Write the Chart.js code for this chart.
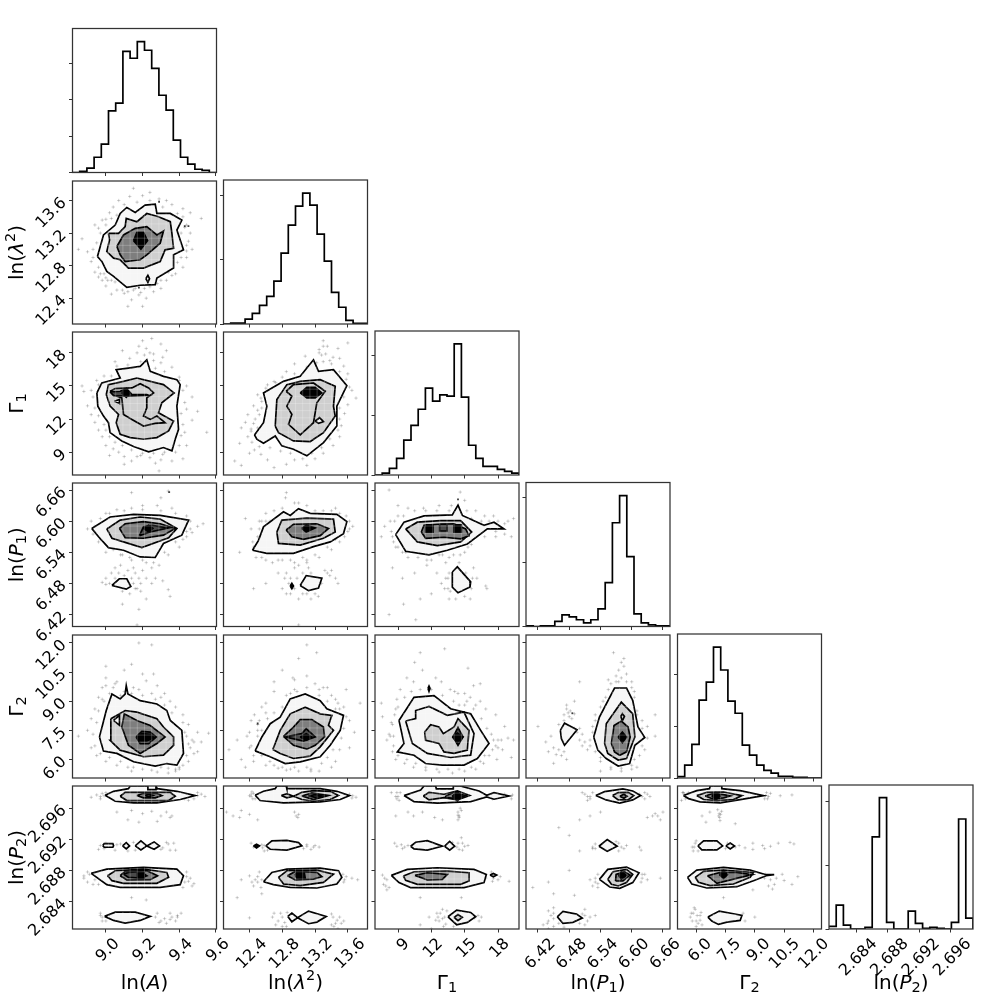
<!DOCTYPE html>
<html lang="en">
<head>
<meta charset="UTF-8">
<title>Corner plot</title>
<script src="https://cdn.jsdelivr.net/npm/chart.js"></script>
<style>
  html, body { margin: 0; padding: 0; background: #fff; width: 1000px; height: 1000px; overflow: hidden; }
  canvas { position: absolute; }
</style>
</head>
<body>
<script>
// parameter order: A = ln(A), L = ln(lambda^2), G = Gamma1, P = ln(P1), H = Gamma2, Q = ln(P2)
const axisMin = [8.818, 12.083, 6.93, 6.397, 5.045, 2.68047];
const axisMax = [9.603, 13.84, 19.89, 6.6735, 12.41, 2.69885];

const ticksA = [9.0, 9.2, 9.4, 9.6];
const ticksL = [12.4, 12.8, 13.2, 13.6];
const ticksG = [9, 12, 15, 18];
const ticksP = [6.42, 6.48, 6.54, 6.60, 6.66];
const ticksH = [6.0, 7.5, 9.0, 10.5, 12.0];
const ticksQ = [2.684, 2.688, 2.692, 2.696];
const labelsA = ['9.0', '9.2', '9.4', '9.6'];
const labelsL = ['12.4', '12.8', '13.2', '13.6'];
const labelsG = ['9', '12', '15', '18'];
const labelsP = ['6.42', '6.48', '6.54', '6.60', '6.66'];
const labelsH = ['6.0', '7.5', '9.0', '10.5', '12.0'];
const labelsQ = ['2.684', '2.688', '2.692', '2.696'];

// axis titles: [text, style] with style 0 upright, 1 italic, 2 subscript, 3 superscript
const titleA = [['ln(', 0], ['A', 1], [')', 0]];
const titleL = [['ln(', 0], ['λ', 1], ['2', 3], [')', 0]];
const titleG = [['Γ', 0], ['1', 2]];
const titleP = [['ln(', 0], ['P', 1], ['1', 2], [')', 0]];
const titleH = [['Γ', 0], ['2', 2]];
const titleQ = [['ln(', 0], ['P', 1], ['2', 2], [')', 0]];

// histogram counts, 20 bins each
const histA = [0, 3, 12, 42, 78, 170, 191, 334, 315, 361, 337, 287, 213, 172, 89, 42, 23, 9, 6, 0];
const histL = [0, 3, 3, 15, 33, 58, 86, 133, 220, 307, 366, 406, 369, 279, 195, 98, 52, 11, 2, 2];
const histG = [0, 6, 22, 56, 117, 167, 221, 292, 248, 269, 265, 441, 262, 100, 56, 29, 29, 19, 12, 6];
const histP = [2, 0, 2, 2, 16, 36, 30, 21, 11, 21, 55, 136, 322, 406, 217, 39, 11, 5, 2, 2];
const histH = [4, 37, 97, 225, 277, 378, 312, 222, 187, 95, 66, 37, 22, 14, 5, 5, 2, 2, 0, 0];
const histQ = [8, 75, 12, 0, 0, 5, 290, 413, 21, 0, 0, 56, 18, 2, 5, 2, 0, 21, 346, 34];
const histMax = [397, 447, 484, 447, 416, 453];
const histTicks = [[0, 100, 200, 300], [0, 200, 400], [0, 200, 400], [0, 200, 400], [0, 150, 300], [0, 200, 400]];

// contours, flat x,y lists, outer level first; ..p and ..q lists are the scatter samples
const AL1 = [8.954,12.912, 8.987,13.177, 9.051,13.299, 9.078,13.441, 9.114,13.515, 9.160,13.454, 9.214,13.543, 9.269,13.555, 9.278,13.441, 9.351,13.441, 9.414,13.360, 9.387,13.238, 9.423,12.994, 9.369,12.933, 9.369,12.770, 9.278,12.648, 9.269,12.567, 9.187,12.559, 9.114,12.534, 9.042,12.668, 9.005,12.729, 8.978,12.851];
const AL2 = [9.014,13.197, 9.069,13.197, 9.105,13.279, 9.111,13.380, 9.169,13.340, 9.223,13.441, 9.287,13.401, 9.351,13.340, 9.360,13.197, 9.369,13.014, 9.323,12.994, 9.296,12.851, 9.205,12.770, 9.123,12.770, 9.078,12.872, 9.042,12.892, 9.005,12.973, 9.020,13.116];
const AL3 = [9.060,13.035, 9.096,13.177, 9.160,13.258, 9.223,13.279, 9.278,13.177, 9.314,13.226, 9.296,13.075, 9.223,12.933, 9.187,12.872, 9.105,12.851, 9.078,12.933];
const AL4 = [9.151,13.108, 9.169,13.209, 9.205,13.209, 9.227,13.108, 9.191,13.002];
const ALs = [9.218,12.640, 9.229,12.681, 9.238,12.640, 9.229,12.595];
const ALp = [8.87,13.13, 8.90,12.97, 8.92,12.85, 8.94,12.72, 8.96,12.66, 8.98,12.62, 9.00,12.55, 9.02,13.45, 8.98,13.36, 8.96,13.26, 8.94,13.30, 9.04,13.52, 9.07,13.60, 9.13,13.65, 9.15,13.75, 9.20,13.66, 9.24,13.70, 9.29,13.62, 9.33,13.60, 9.36,13.55, 9.42,13.50, 9.46,13.45, 9.44,13.30, 9.43,13.27, 9.45,13.10, 9.47,13.00, 9.44,12.90, 9.42,12.78, 9.38,12.70, 9.33,12.62, 9.30,12.52, 9.26,12.48, 9.22,12.40, 9.18,12.44, 9.14,12.38, 9.10,12.46, 9.06,12.50, 9.03,12.45, 9.16,12.52, 9.21,12.52, 9.12,12.30, 9.01,12.62, 9.05,12.60, 9.52,13.38, 8.85,13.00, 9.20,12.30];
const ALq = [8.93,13.0, 8.95,13.08, 8.97,13.2, 9.0,13.3, 9.03,13.38, 9.06,13.42, 9.1,13.55, 9.17,13.58, 9.24,13.6, 9.31,13.52, 9.39,13.44, 9.42,13.4, 9.41,13.2, 9.44,13.05, 9.41,12.9, 9.39,12.84, 9.34,12.72, 9.3,12.62, 9.24,12.54, 9.15,12.5, 9.09,12.5, 9.03,12.62, 8.99,12.7, 8.96,12.78, 8.93,12.9, 9.28,12.58, 9.36,12.68, 9.0,12.65, 8.97,12.7, 9.12,12.48, 9.19,12.47, 9.26,12.6, 9.0,13.37, 9.46,13.2, 9.44,12.98];

const AG1 = [8.951,14.37, 8.978,15.27, 9.078,15.72, 9.056,16.47, 9.123,16.62, 9.187,16.77, 9.223,17.37, 9.242,16.32, 9.314,15.87, 9.387,15.57, 9.405,15.12, 9.387,13.17, 9.396,11.07, 9.378,10.17, 9.360,9.12, 9.314,9.42, 9.233,9.03, 9.151,9.51, 9.087,10.02, 9.023,10.77, 9.014,11.67, 8.987,12.27, 8.956,13.17];
const AG2 = [9.002,14.22, 9.014,15.12, 9.096,15.42, 9.169,15.72, 9.242,15.42, 9.314,15.12, 9.372,14.37, 9.305,13.47, 9.287,12.57, 9.369,11.82, 9.342,10.92, 9.278,10.32, 9.205,10.17, 9.133,10.32, 9.078,10.62, 9.056,11.67, 9.069,12.42, 9.023,13.17];
const AG3 = [9.023,14.52, 9.051,14.76, 9.142,14.82, 9.187,15.21, 9.233,14.82, 9.260,14.37, 9.223,13.92, 9.223,13.02, 9.205,12.27, 9.242,11.97, 9.278,12.27, 9.323,11.67, 9.269,11.61, 9.205,11.37, 9.142,11.97, 9.096,12.42, 9.087,13.92, 9.051,14.13];
const AG4 = [9.023,14.46, 9.078,14.52, 9.111,14.76, 9.142,14.22, 9.223,14.22, 9.233,14.16, 9.114,14.07, 9.042,14.13];
const AG5 = [9.087,14.37, 9.111,14.76, 9.133,14.37, 9.111,13.98];
const AGs = [9.047,13.62, 9.074,13.77, 9.074,13.41];
const AGp = [8.88,14.5, 8.90,13.2, 8.92,12.4, 8.94,11.7, 8.96,11.0, 8.98,10.4, 9.00,9.6, 9.04,9.3, 9.07,9.0, 9.10,8.6, 9.14,8.2, 9.19,8.7, 9.24,8.5, 9.27,8.0, 9.31,8.8, 9.36,8.2, 9.42,8.4, 9.44,9.6, 9.43,10.8, 9.47,11.9, 9.44,12.9, 9.47,14.0, 9.42,14.6, 9.40,15.8, 9.36,16.7, 9.31,17.6, 9.30,18.8, 9.26,17.9, 9.22,18.4, 9.20,19.1, 9.17,18.0, 9.13,17.5, 9.09,18.2, 9.05,17.2, 8.99,15.9, 8.95,15.5, 8.87,15.0, 9.55,10.8, 9.50,12.7, 9.25,19.3, 9.33,18.2, 9.10,7.9, 9.29,7.3, 9.02,8.7];
const AGq = [8.93,14.0, 8.94,13.0, 8.96,12.3, 8.99,11.5, 9.0,11.0, 9.02,10.4, 9.05,9.9, 9.09,9.6, 9.14,9.2, 9.2,8.9, 9.26,8.9, 9.32,9.0, 9.38,9.0, 9.4,9.6, 9.41,10.5, 9.42,11.5, 9.41,12.5, 9.43,13.5, 9.44,15.0, 9.4,15.5, 9.32,16.3, 9.27,16.6, 9.26,17.3, 9.19,17.2, 9.12,16.9, 9.06,16.8, 9.03,15.9, 8.96,15.1, 8.92,14.6, 9.17,8.6, 9.3,8.3, 9.21,17.8, 9.24,18.0, 9.3,17.1, 9.18,18.6];

const LG1 = [12.461,10.56, 12.571,11.67, 12.612,13.17, 12.571,14.37, 12.815,15.42, 13.019,15.87, 13.181,17.37, 13.242,16.32, 13.425,16.47, 13.588,15.03, 13.466,13.17, 13.466,11.37, 13.303,9.87, 13.100,8.67, 12.937,9.27, 12.795,9.57, 12.714,10.47, 12.571,9.81, 12.490,10.17];
const LG2 = [12.714,11.37, 12.734,13.77, 12.856,15.12, 13.019,15.42, 13.263,15.57, 13.446,14.97, 13.425,13.17, 13.446,12.27, 13.303,10.77, 13.141,9.96, 12.937,10.02, 12.754,10.77];
const LG3 = [12.848,14.52, 12.937,15.12, 13.181,15.27, 13.324,14.52, 13.222,13.47, 13.181,11.67, 13.019,10.56, 12.876,11.52, 12.917,12.42, 12.856,13.17, 12.917,14.07];
const LG4 = [13.019,14.37, 13.100,14.88, 13.202,14.88, 13.283,14.37, 13.202,13.92, 13.100,13.92];
const LGs = [13.202,11.82, 13.255,12.12, 13.303,11.76, 13.242,11.61];
const LGp = [12.22,8.2, 12.30,7.8, 12.28,9.8, 12.40,8.9, 12.46,9.2, 12.54,8.8, 12.62,8.3, 12.70,7.6, 12.85,7.9, 12.95,8.3, 13.1,7.8, 13.2,8.4, 13.3,8.9, 13.42,9.6, 13.5,10.4, 13.52,11.4, 13.56,12.5, 13.6,13.3, 13.7,13.9, 13.65,14.6, 13.6,16.1, 13.55,16.8, 13.5,17.5, 13.48,18.4, 13.42,17.6, 13.35,18.6, 13.3,19.1, 13.28,17.8, 13.25,18.3, 13.08,17.7, 12.95,17, 12.85,16.3, 12.7,15.4, 12.62,15.1, 12.5,14.2, 12.45,13.2, 12.38,12.4, 12.35,11.7, 12.42,11.1, 12.47,12.0, 12.5,12.8, 12.3,11.2, 12.55,13.6, 13.38,17.3, 13.6,18.9];
const LGq = [12.42,10.9, 12.45,11.6, 12.52,12.4, 12.55,13.0, 12.54,13.9, 12.6,14.8, 12.72,15.3, 12.8,15.8, 12.95,16.1, 13.1,16.7, 13.22,17.1, 13.3,17.2, 13.4,17.0, 13.5,16.3, 13.58,15.6, 13.62,14.9, 13.55,14.0, 13.5,13.0, 13.5,12.0, 13.48,11, 13.38,10.2, 13.28,9.4, 13.16,8.9, 13.05,8.4, 12.9,8.9, 12.78,9.1, 12.65,9.4, 12.52,9.5, 12.43,9.9, 12.38,10.4, 13.25,18.0, 13.33,17.9, 13.3,18.6, 12.5,11.2, 12.55,11.0];

const AP1 = [8.923,6.586, 9.023,6.608, 9.151,6.613, 9.296,6.611, 9.451,6.602, 9.414,6.573, 9.314,6.557, 9.269,6.530, 9.187,6.531, 9.096,6.544, 9.014,6.549, 8.960,6.570];
const AP2 = [9.005,6.585, 9.078,6.602, 9.187,6.608, 9.296,6.604, 9.387,6.586, 9.342,6.568, 9.196,6.549, 9.096,6.560, 9.033,6.567];
const AP3 = [9.074,6.586, 9.105,6.595, 9.205,6.599, 9.296,6.595, 9.378,6.586, 9.314,6.573, 9.205,6.567, 9.105,6.568];
const AP4 = [9.183,6.572, 9.205,6.589, 9.251,6.592, 9.342,6.587, 9.242,6.579];
const AP5 = [9.205,6.586, 9.233,6.592, 9.256,6.586, 9.233,6.579];
const APi = [9.033,6.476, 9.073,6.489, 9.114,6.489, 9.136,6.474, 9.111,6.469];
const APp = [8.92,6.60, 8.90,6.585, 8.97,6.565, 9.0,6.555, 9.04,6.545, 9.09,6.535, 9.14,6.525, 9.22,6.52, 9.29,6.515, 9.34,6.535, 9.4,6.55, 9.44,6.57, 9.46,6.585, 9.5,6.59, 9.53,6.595, 9.44,6.61, 9.36,6.625, 9.28,6.63, 9.3,6.645, 9.34,6.658, 9.2,6.63, 9.14,6.625, 9.06,6.622, 9.14,6.655, 9.02,6.615, 8.98,6.482, 9.0,6.478, 9.03,6.50, 9.05,6.51, 9.08,6.515, 9.12,6.505, 9.16,6.50, 9.18,6.49, 9.2,6.505, 9.15,6.48, 9.17,6.47, 9.13,6.46, 9.22,6.45, 9.27,6.49, 9.31,6.485, 9.34,6.468, 9.35,6.455, 9.18,6.43, 9.17,6.40, 9.09,6.44, 9.25,6.51];
const APq = [8.94,6.59, 8.93,6.575, 8.96,6.56, 9.0,6.54, 9.03,6.55, 9.08,6.535, 9.13,6.53, 9.2,6.525, 9.26,6.52, 9.32,6.54, 9.38,6.56, 9.42,6.565, 9.44,6.58, 9.46,6.60, 9.47,6.578, 9.38,6.615, 9.3,6.62, 9.2,6.622, 9.1,6.62, 9.0,6.615, 8.97,6.605, 9.05,6.49, 9.07,6.5, 9.1,6.495, 9.14,6.49, 9.16,6.47, 9.19,6.48, 9.12,6.475, 9.02,6.48, 9.0,6.49, 9.22,6.49, 9.15,6.51, 9.19,6.465, 9.09,6.465, 9.25,6.48];

const LP1 = [12.437,6.544, 12.510,6.563, 12.571,6.589, 12.815,6.618, 12.897,6.611, 12.998,6.624, 13.141,6.615, 13.466,6.613, 13.588,6.599, 13.547,6.576, 13.385,6.560, 13.181,6.551, 12.937,6.538, 12.612,6.538];
const LP2 = [12.734,6.579, 12.795,6.602, 13.100,6.606, 13.425,6.604, 13.446,6.579, 13.303,6.567, 13.019,6.554, 12.754,6.557];
const LP3 = [12.848,6.583, 12.937,6.594, 13.222,6.595, 13.364,6.586, 13.263,6.572, 13.059,6.565, 12.917,6.570];
const LP4 = [13.039,6.586, 13.092,6.592, 13.202,6.587, 13.092,6.579];
const LPi = [13.019,6.476, 13.092,6.495, 13.283,6.490, 13.242,6.471, 13.120,6.466];
const LPs = [12.897,6.475, 12.917,6.480, 12.937,6.475, 12.917,6.470];
const LPp = [12.35,6.605, 12.42,6.585, 12.5,6.57, 12.45,6.55, 12.55,6.53, 12.68,6.52, 12.8,6.525, 12.95,6.52, 13.1,6.525, 13.25,6.53, 13.4,6.545, 13.5,6.56, 13.6,6.58, 13.66,6.59, 13.58,6.61, 13.45,6.625, 13.3,6.62, 13.1,6.63, 12.95,6.635, 12.85,6.655, 12.84,6.645, 12.7,6.62, 12.6,6.615, 12.52,6.6, 12.28,6.54, 12.75,6.50, 12.8,6.47, 12.85,6.46, 12.9,6.49, 12.92,6.47, 12.95,6.51, 13.0,6.515, 13.05,6.50, 13.1,6.52, 13.15,6.45, 13.2,6.46, 13.32,6.505, 13.38,6.495, 13.45,6.49, 13.48,6.48, 13.24,6.455, 13.0,6.40, 12.6,6.48, 12.45,6.47];
const LPq = [12.44,6.56, 12.52,6.585, 12.55,6.6, 12.6,6.6, 12.48,6.53, 12.6,6.525, 12.75,6.525, 12.9,6.525, 13.05,6.53, 13.2,6.535, 13.35,6.55, 13.45,6.565, 13.56,6.57, 13.62,6.585, 13.62,6.6, 13.5,6.615, 13.4,6.62, 13.2,6.62, 13.0,6.635, 12.8,6.625, 12.65,6.6, 12.85,6.50, 12.88,6.48, 12.83,6.49, 12.9,6.46, 12.95,6.47, 12.98,6.49, 13.0,6.45, 13.05,6.46, 13.1,6.46, 13.2,6.48, 13.28,6.48, 13.35,6.5, 13.4,6.505, 13.12,6.51, 13.15,6.5];

const GP1 = [8.79,6.574, 9.54,6.598, 11.34,6.610, 13.89,6.612, 14.40,6.631, 14.79,6.611, 16.74,6.592, 17.64,6.598, 18.54,6.585, 17.04,6.585, 15.24,6.556, 13.44,6.544, 11.79,6.535, 9.69,6.542];
const GP2 = [9.69,6.585, 10.74,6.598, 12.84,6.601, 14.64,6.601, 15.63,6.579, 14.64,6.560, 12.54,6.553, 10.74,6.560];
const GP3 = [11.10,6.579, 11.34,6.592, 12.54,6.594, 14.04,6.595, 15.09,6.585, 15.39,6.572, 14.64,6.566, 13.14,6.569, 11.49,6.567];
const GP4 = [12.75,6.594, 13.41,6.594, 13.41,6.581, 12.75,6.581];
const GP5 = [11.49,6.593, 12.15,6.593, 12.15,6.579, 11.49,6.579];
const GP6 = [14.04,6.593, 14.70,6.593, 14.70,6.579, 14.04,6.579];
const GPi = [13.89,6.502, 14.34,6.512, 15.54,6.483, 15.48,6.473, 14.40,6.462, 13.89,6.473];
const GPp = [7.5,6.57, 7.8,6.59, 8.3,6.60, 8.5,6.57, 8.8,6.55, 9.4,6.54, 9.9,6.53, 10.8,6.53, 11.6,6.525, 12.7,6.535, 13.6,6.53, 14.6,6.535, 15.3,6.55, 16,6.57, 16.8,6.57, 17.8,6.57, 18.6,6.595, 18.9,6.60, 19.4,6.605, 19.2,6.57, 17.6,6.61, 16.8,6.61, 16,6.62, 15.0,6.64, 14.6,6.656, 13.8,6.63, 12.7,6.63, 11.3,6.625, 9.9,6.625, 9.0,6.63, 8.2,6.66, 8.5,6.51, 9.4,6.49, 10.5,6.50, 11.6,6.515, 12.5,6.50, 13.3,6.52, 13.5,6.49, 13.2,6.47, 13.6,6.45, 15.8,6.51, 16.1,6.49, 16.9,6.475, 17.0,6.47, 12.0,6.46, 11.0,6.45, 10.6,6.41, 9.5,6.44, 8.2,6.42, 15.5,6.45];
const GPq = [8.4,6.58, 8.7,6.6, 9.0,6.61, 9.5,6.61, 10.5,6.62, 11.5,6.62, 12.5,6.62, 13.6,6.62, 15.2,6.62, 15.6,6.605, 16.5,6.6, 17.2,6.6, 18.0,6.6, 18.6,6.575, 17.8,6.58, 16.3,6.575, 15.6,6.555, 15,6.54, 14,6.535, 13,6.535, 12,6.525, 10.8,6.54, 9.7,6.54, 9.0,6.55, 8.6,6.56, 13.6,6.5, 13.5,6.47, 13.3,6.49, 13.7,6.465, 14.2,6.45, 15.0,6.455, 15.6,6.47, 15.7,6.49, 14.5,6.52, 15.1,6.5, 12.9,6.48];

const AH1 = [8.965,7.16, 9.002,8.52, 9.033,9.37, 9.078,9.12, 9.105,9.37, 9.111,9.80, 9.120,9.37, 9.187,9.03, 9.278,8.86, 9.332,8.52, 9.351,8.01, 9.414,7.50, 9.423,6.31, 9.387,5.71, 9.332,5.79, 9.269,5.66, 9.151,5.88, 9.060,6.31, 8.987,6.43];
const AH2 = [9.027,8.10, 9.105,8.52, 9.169,8.44, 9.278,8.10, 9.314,7.67, 9.369,7.16, 9.369,6.73, 9.314,6.22, 9.205,6.14, 9.078,6.48, 9.023,6.99];
const AH3 = [9.087,7.67, 9.100,8.35, 9.169,8.01, 9.242,7.75, 9.323,7.16, 9.278,6.82, 9.187,6.31, 9.123,6.73];
const AH4 = [9.165,7.16, 9.196,7.45, 9.242,7.41, 9.274,7.16, 9.233,6.82, 9.187,6.82];
const AH5 = [9.169,7.16, 9.196,7.33, 9.242,7.30, 9.263,7.12, 9.223,6.95, 9.187,6.95];
const AHs = [9.042,8.01, 9.074,8.27, 9.074,7.76];
const AHp = [8.90,7.5, 8.92,8.1, 8.94,8.6, 8.96,9.2, 8.98,9.7, 9.0,10.2, 9.0,10.8, 9.06,10.0, 9.1,10.6, 9.14,10.9, 9.2,10.4, 9.26,10.4, 9.28,9.8, 9.32,9.4, 9.38,8.7, 9.42,8.3, 9.45,7.8, 9.5,7.4, 9.56,7.35, 9.48,6.9, 9.44,6.2, 9.42,5.7, 9.38,5.4, 9.34,5.3, 9.28,5.35, 9.2,5.5, 9.14,5.4, 9.06,5.7, 9.0,5.9, 8.95,6.2, 8.92,6.6, 8.85,7.2, 9.05,9.9, 9.15,9.7, 9.22,10.05, 9.25,11.9, 9.18,12.0, 9.35,9.0, 8.98,9.1, 9.1,9.5, 9.48,6.3, 9.52,6.9, 9.3,5.6, 9.4,5.5];
const AHq = [8.93,7.3, 8.95,7.9, 8.96,8.5, 8.99,9.0, 9.02,9.4, 9.08,9.3, 9.14,9.4, 9.2,9.3, 9.27,9.1, 9.32,8.8, 9.36,8.4, 9.42,7.9, 9.44,7.2, 9.46,6.6, 9.45,5.9, 9.4,5.6, 9.34,5.55, 9.25,5.45, 9.15,5.6, 9.08,5.9, 9.02,6.1, 8.97,6.3, 8.94,6.7, 9.04,9.7, 9.08,9.0, 9.0,9.8, 9.25,9.4, 9.18,9.6, 9.3,9.2, 9.47,7.0, 9.5,6.4, 9.45,6.8, 9.43,7.4, 9.38,5.5, 9.12,5.6];

const LH1 = [12.469,6.44, 12.551,7.16, 12.653,7.84, 12.775,8.18, 12.897,9.12, 13.080,9.37, 13.263,9.03, 13.344,8.61, 13.547,8.27, 13.507,7.50, 13.385,6.73, 13.263,6.14, 13.019,5.88, 12.836,5.79, 12.653,6.14];
const LH2 = [12.685,6.51, 12.775,7.50, 12.897,8.35, 13.080,8.69, 13.263,8.35, 13.405,8.27, 13.364,7.76, 13.425,7.50, 13.263,6.65, 13.141,6.17, 12.937,6.05, 12.775,6.31];
const LH3 = [12.815,7.19, 12.937,7.67, 13.019,8.05, 13.161,8.05, 13.303,7.67, 13.316,7.16, 13.202,6.73, 13.100,6.53, 12.937,6.73];
const LH4 = [12.836,7.16, 13.039,7.33, 13.092,7.58, 13.202,7.16, 13.059,6.95];
const LH5 = [13.019,7.16, 13.092,7.33, 13.161,7.16, 13.092,6.99];
const LHp = [12.25,7.0, 12.3,6.0, 12.37,7.2, 12.4,7.4, 12.42,8.0, 12.46,8.3, 12.5,7.8, 12.55,8.7, 12.52,8.0, 12.7,9.5, 12.7,10.0, 12.8,10.6, 12.9,9.4, 12.93,10.2, 12.98,9.5, 13.0,11.2, 13.1,11.9, 13.22,11.5, 13.1,10.3, 13.25,9.6, 13.35,9.7, 13.4,9.3, 13.45,9.1, 13.55,8.7, 13.62,8.0, 13.68,7.4, 13.62,6.6, 13.5,6.5, 13.45,5.9, 13.4,5.6, 13.25,5.4, 13.15,5.5, 13.0,5.4, 12.85,5.45, 12.75,5.55, 12.6,5.7, 12.45,5.9, 12.15,6.5, 12.35,5.6, 13.58,9.6, 13.75,8.9, 12.6,8.9];
const LHq = [12.42,6.7, 12.5,7.2, 12.55,7.5, 12.62,8.1, 12.7,8.4, 12.8,8.7, 12.85,9.3, 12.95,9.6, 13.1,9.7, 13.25,9.3, 13.35,9.0, 13.5,8.6, 13.58,8.2, 13.55,7.6, 13.52,7.1, 13.42,6.5, 13.35,6.1, 13.28,5.8, 13.1,5.6, 12.95,5.6, 12.8,5.6, 12.65,5.9, 12.55,6.2, 12.45,6.2, 12.4,6.6, 13.2,9.9, 13.3,9.7, 13.48,8.9, 13.45,8.6, 12.95,10.1, 12.6,8.4, 12.5,7.5, 13.15,5.4, 12.9,5.5, 12.7,5.7];

const GH1 = [9.09,8.01, 10.44,9.20, 12.24,9.29, 13.74,8.61, 15.54,8.35, 16.44,7.50, 17.19,6.82, 16.14,6.05, 14.94,5.71, 12.99,5.71, 11.49,5.79, 10.44,6.22, 8.94,6.39, 9.54,6.82];
const GH2 = [9.69,7.98, 10.59,8.10, 10.59,8.52, 11.79,8.73, 13.44,8.27, 14.94,8.44, 15.84,7.33, 15.54,6.22, 13.74,6.10, 11.64,6.31, 10.29,6.82];
const GH3 = [11.40,7.41, 11.94,7.79, 12.69,7.67, 13.08,7.33, 14.04,7.67, 14.40,8.10, 15.39,7.50, 15.24,6.48, 14.04,6.31, 13.14,6.39, 12.69,6.82, 11.49,6.99];
const GH4 = [13.95,7.16, 14.40,7.64, 14.85,7.16, 14.40,6.73];
const GH5 = [13.89,7.16, 14.34,7.36, 14.85,7.16, 14.34,6.90];
const GHs = [11.70,9.66, 11.79,9.78, 11.88,9.66, 11.79,9.51];
const GHp = [7.6,8.2, 8.2,7.3, 8.0,7.0, 8.4,7.9, 8.8,8.6, 9.2,9.6, 9.8,10.2, 10.4,10.0, 11.2,10.6, 12.4,10.2, 12.9,10.0, 13.2,11.7, 13.7,9.6, 14.4,9.4, 15.0,9.4, 15.8,9.8, 16.4,9.0, 16.9,8.6, 17.8,8.3, 18.6,7.7, 18.3,7.0, 18.9,7.1, 18.0,6.6, 19.4,7.0, 19.2,6.1, 17.9,6.0, 17.2,6.2, 16.7,5.8, 16.0,5.5, 15.0,5.4, 13.9,5.3, 12.7,5.35, 11.5,5.45, 10.4,5.6, 9.6,5.8, 8.8,6.0, 8.5,6.4, 8.6,7.2, 8.3,7.2, 14.1,9.5, 10.5,11.0, 11.0,11.5, 12.4,8.7, 15.3,10.7, 16.4,9.9, 7.5,8.9, 8.9,9.1];
const GHq = [8.5,7.8, 8.7,8.3, 9.0,8.7, 9.6,9.2, 10.2,9.5, 11.0,9.6, 12.0,9.6, 13.0,9.3, 14.0,9.0, 15.0,8.8, 15.8,8.6, 16.5,8.1, 17.0,7.6, 17.6,7.0, 17.5,6.5, 16.8,6.2, 16.4,5.9, 15.6,5.6, 14.5,5.5, 13.5,5.5, 12.5,5.5, 11.5,5.6, 10.6,5.8, 9.8,6.0, 9.0,6.2, 8.6,6.7, 9.2,8.0, 15.2,9.0, 14.5,8.8, 15.5,9.2, 16.0,8.8, 17.4,7.3, 18.0,7.0, 17.8,6.7, 18.4,6.5];

const PH1 = [6.527,7.16, 6.538,8.18, 6.567,9.68, 6.590,9.68, 6.602,9.03, 6.612,7.67, 6.625,7.13, 6.606,6.73, 6.596,5.79, 6.574,5.66, 6.551,6.05, 6.535,6.48];
const PH2 = [6.548,6.82, 6.551,7.84, 6.580,8.95, 6.602,8.35, 6.606,7.16, 6.590,6.05, 6.574,5.97, 6.554,6.31];
const PH3 = [6.561,6.82, 6.566,7.75, 6.580,7.98, 6.593,7.67, 6.597,7.16, 6.590,6.39, 6.577,6.22, 6.567,6.39];
const PH4 = [6.574,7.16, 6.582,7.41, 6.590,7.16, 6.582,6.87];
const PHs = [6.579,8.22, 6.582,8.35, 6.586,8.22, 6.582,7.98];
const PHi = [6.463,7.50, 6.471,7.87, 6.495,7.53, 6.471,6.73, 6.465,7.07];
const PHp = [6.445,7.2, 6.45,6.6, 6.44,6.4, 6.435,6.9, 6.455,6.25, 6.46,7.8, 6.47,8.3, 6.475,8.6, 6.48,8.2, 6.482,8.5, 6.49,8.35, 6.495,7.4, 6.50,7.0, 6.505,7.3, 6.51,6.9, 6.515,6.5, 6.475,6.0, 6.45,5.8, 6.42,7.7, 6.49,9.0, 6.56,5.5, 6.54,5.4, 6.54,6.1, 6.525,7.4, 6.53,8.3, 6.545,9.0, 6.555,9.6, 6.555,10.1, 6.57,10.3, 6.575,10.6, 6.58,11.0, 6.585,11.2, 6.59,10.4, 6.60,10.0, 6.605,9.5, 6.61,8.5, 6.62,8.0, 6.63,7.7, 6.645,7.2, 6.625,6.5, 6.615,6.2, 6.61,5.6, 6.60,5.5, 6.58,5.4, 6.565,11.5, 6.50,10.0, 6.645,8.3];
const PHq = [6.52,7.0, 6.525,7.7, 6.53,8.0, 6.54,8.7, 6.55,9.2, 6.56,9.9, 6.57,10.0, 6.58,10.2, 6.59,10.0, 6.6,9.7, 6.605,9.2, 6.61,8.3, 6.62,7.6, 6.63,7.1, 6.62,6.7, 6.605,6.0, 6.6,5.7, 6.58,5.55, 6.56,5.6, 6.54,5.9, 6.53,6.4, 6.52,6.7, 6.47,8.0, 6.478,8.4, 6.485,8.1, 6.49,7.6, 6.5,7.6, 6.505,6.7, 6.46,6.5, 6.465,6.2, 6.47,6.4, 6.475,8.8, 6.585,10.8, 6.575,10.0];

const AQa1 = [8.996,2.69766, 9.042,2.69817, 9.123,2.69851, 9.133,2.69885, 9.229,2.69885, 9.229,2.69838, 9.273,2.69838, 9.273,2.69885, 9.280,2.69851, 9.387,2.69817, 9.487,2.69762, 9.405,2.69711, 9.278,2.69668, 9.151,2.69668, 9.051,2.69689];
const AQa2 = [9.078,2.69753, 9.105,2.69804, 9.351,2.69804, 9.378,2.69753, 9.342,2.69698, 9.114,2.69698];
const AQa3 = [9.169,2.69762, 9.205,2.69791, 9.278,2.69791, 9.305,2.69762, 9.269,2.69732, 9.205,2.69732];
const AQa4 = [9.214,2.69762, 9.233,2.69779, 9.256,2.69762, 9.233,2.69745];
const AQb1 = [8.983,2.69119, 8.991,2.69145, 9.038,2.69145, 9.042,2.69119, 9.038,2.69098, 8.991,2.69098];
const AQb2 = [9.091,2.69115, 9.111,2.69157, 9.129,2.69115, 9.111,2.69076];
const AQb3 = [9.160,2.69115, 9.191,2.69179, 9.223,2.69115, 9.263,2.69166, 9.292,2.69115, 9.263,2.69072, 9.223,2.69115, 9.191,2.69064];
const AQc1 = [8.920,2.68762, 9.005,2.68817, 9.205,2.68838, 9.387,2.68817, 9.423,2.68732, 9.405,2.68617, 9.296,2.68583, 9.078,2.68583, 9.005,2.68617];
const AQc2 = [9.009,2.68732, 9.051,2.68796, 9.205,2.68817, 9.332,2.68774, 9.342,2.68711, 9.278,2.68634, 9.096,2.68634, 9.033,2.68668];
const AQc3 = [9.078,2.68732, 9.105,2.68787, 9.223,2.68796, 9.282,2.68732, 9.242,2.68681, 9.114,2.68677];
const AQc4 = [9.096,2.68753, 9.123,2.68774, 9.187,2.68783, 9.223,2.68732, 9.187,2.68702, 9.123,2.68711];
const AQc5 = [9.172,2.68774, 9.209,2.68774, 9.209,2.68698, 9.172,2.68698];
const AQd1 = [8.993,2.68209, 9.051,2.68264, 9.160,2.68264, 9.242,2.68209, 9.187,2.68157, 9.105,2.68123, 9.042,2.68157];
const AQp = [8.99,2.6976, 8.95,2.6977, 8.92,2.6974, 9.5,2.6976, 9.52,2.6978, 9.54,2.6975, 9.43,2.6972, 9.06,2.6955, 9.14,2.6957, 9.2,2.6953, 9.25,2.6956, 9.3,2.695, 9.35,2.6948, 9.36,2.695, 9.33,2.6955, 9.12,2.6945, 9.28,2.6943, 9.18,2.6942, 8.97,2.6912, 8.99,2.6908, 9.05,2.6906, 9.08,2.6914, 9.15,2.6916, 9.16,2.6906, 9.31,2.6909, 9.34,2.6914, 9.37,2.6915, 9.38,2.6906, 8.88,2.6873, 8.9,2.6865, 9.44,2.6878, 9.46,2.687, 9.48,2.6863, 9.47,2.686, 8.93,2.6862, 9.14,2.6845, 9.22,2.6842, 8.97,2.6825, 8.98,2.6815, 9.28,2.6825, 9.32,2.6818, 9.36,2.682, 9.39,2.6822, 9.33,2.6812, 9.29,2.6813, 9.41,2.6825];
const AQq = [8.98,2.6979, 8.97,2.6975, 9.0,2.698, 8.97,2.6972, 9.48,2.6972, 9.5,2.698, 9.45,2.6970, 9.4,2.6973, 9.0,2.6915, 9.0,2.691, 8.96,2.6907, 9.06,2.6913, 9.12,2.6905, 9.3,2.6907, 9.35,2.6906, 9.33,2.6916, 8.9,2.6878, 8.91,2.6875, 8.94,2.6868, 8.96,2.6862, 8.88,2.687, 9.43,2.6865, 9.44,2.6872, 9.45,2.6866, 9.42,2.6858, 8.98,2.682, 8.97,2.6822, 9.0,2.6815, 9.27,2.682, 9.3,2.6815, 9.35,2.6817, 9.38,2.6815, 9.39,2.682, 9.35,2.6825];

const LQa1 = [12.469,2.69766, 12.571,2.69817, 12.714,2.69851, 12.734,2.69885, 12.848,2.69885, 12.856,2.69851, 13.263,2.69851, 13.466,2.69817, 13.621,2.69762, 13.507,2.69711, 13.263,2.69681, 12.815,2.69668, 12.530,2.69698];
const LQa2 = [12.787,2.69762, 12.856,2.69787, 12.937,2.69753, 13.039,2.69804, 13.181,2.69825, 13.385,2.69817, 13.486,2.69762, 13.385,2.69711, 13.181,2.69689, 13.039,2.69711, 12.937,2.69753, 12.856,2.69732];
const LQa3 = [13.039,2.69757, 13.161,2.69796, 13.364,2.69762, 13.181,2.69711];
const LQa4 = [13.120,2.69757, 13.202,2.69774, 13.283,2.69757, 13.202,2.69740];
const LQb1 = [12.600,2.69115, 12.673,2.69179, 12.856,2.69187, 12.998,2.69157, 13.039,2.69115, 12.856,2.69060, 12.653,2.69072];
const LQb2 = [12.449,2.69115, 12.486,2.69136, 12.522,2.69115, 12.486,2.69089];
const LQc1 = [12.571,2.68655, 12.673,2.68774, 12.856,2.68817, 13.263,2.68830, 13.486,2.68796, 13.527,2.68711, 13.466,2.68625, 13.222,2.68574, 12.897,2.68583, 12.693,2.68617];
const LQc2 = [12.754,2.68711, 12.856,2.68796, 13.222,2.68804, 13.425,2.68753, 13.303,2.68647, 13.019,2.68604, 12.815,2.68625];
const LQc3 = [12.864,2.68732, 12.958,2.68787, 13.222,2.68774, 13.283,2.68719, 13.181,2.68689, 12.958,2.68677];
const LQc4 = [12.958,2.68740, 12.978,2.68783, 13.067,2.68783, 13.080,2.68702, 12.978,2.68702];
const LQd1 = [12.868,2.68209, 12.917,2.68251, 12.986,2.68192, 13.120,2.68277, 13.336,2.68209, 13.222,2.68136, 13.120,2.68115, 12.986,2.68192, 12.917,2.68140];
const LQp = [12.45,2.6979, 12.42,2.6975, 12.47,2.6972, 13.66,2.6976, 13.7,2.6974, 12.12,2.6955, 12.2,2.695, 12.3,2.6957, 12.4,2.6952, 12.5,2.6945, 12.28,2.6948, 12.95,2.6955, 12.97,2.695, 12.99,2.6948, 13.0,2.6952, 12.45,2.691, 12.55,2.6913, 12.58,2.6905, 13.1,2.6913, 13.15,2.6907, 13.2,2.6912, 13.25,2.691, 12.3,2.6868, 12.4,2.6873, 12.45,2.686, 12.5,2.6865, 12.52,2.6878, 12.55,2.685, 13.56,2.6868, 13.65,2.687, 13.72,2.6868, 12.25,2.6845, 12.68,2.682, 12.72,2.681, 12.78,2.6825, 12.83,2.6813, 12.85,2.6808, 13.4,2.6824, 13.45,2.6812, 13.5,2.682, 13.55,2.6815, 12.4,2.6819];
const LQq = [12.42,2.6978, 12.44,2.6972, 12.4,2.6976, 12.43,2.6981, 13.62,2.6978, 13.65,2.6973, 12.42,2.6915, 12.58,2.6912, 12.56,2.6909, 12.62,2.6906, 13.06,2.6908, 13.1,2.6911, 13.18,2.691, 12.47,2.6868, 12.54,2.6858, 12.5,2.6872, 12.43,2.6865, 12.55,2.6868, 13.54,2.6875, 13.58,2.6872, 13.55,2.6865, 12.7,2.6825, 12.75,2.6815, 12.8,2.682, 12.8,2.6808, 12.86,2.6826, 12.82,2.6803, 13.42,2.682, 13.43,2.6808, 13.47,2.6816, 13.52,2.6812, 13.48,2.6805, 13.4,2.681];

const GQa1 = [9.54,2.69762, 11.04,2.69834, 11.34,2.69885, 12.39,2.69885, 12.45,2.69847, 13.95,2.69847, 13.98,2.69885, 14.6,2.69885, 16.29,2.69821, 16.98,2.69766, 17.64,2.69800, 18.99,2.69757, 17.64,2.69715, 16.98,2.69745, 15.54,2.69685, 12.54,2.69664, 10.44,2.69685];
const GQa2 = [11.28,2.69757, 11.79,2.69804, 13.14,2.69779, 14.34,2.69821, 15.45,2.69762, 14.34,2.69706, 13.14,2.69736, 11.79,2.69706];
const GQa3 = [13.29,2.69757, 14.04,2.69804, 15.09,2.69762, 14.34,2.69719, 13.29,2.69740];
const GQa4 = [13.89,2.69753, 14.34,2.69813, 14.79,2.69753, 14.34,2.69693];
const GQb1 = [10.14,2.69111, 10.59,2.69162, 11.64,2.69183, 12.99,2.69111, 11.64,2.69060, 10.44,2.69077];
const GQb2 = [13.20,2.69111, 13.65,2.69174, 14.10,2.69111, 13.65,2.69060];
const GQc1 = [8.40,2.68736, 9.84,2.68813, 12.54,2.68834, 15.84,2.68813, 16.95,2.68749, 16.74,2.68643, 14.94,2.68579, 10.14,2.68579, 9.09,2.68643];
const GQc2 = [9.48,2.68728, 10.44,2.68783, 13.44,2.68791, 15.39,2.68770, 15.39,2.68664, 14.64,2.68621, 10.74,2.68621, 9.69,2.68672];
const GQc3 = [10.53,2.68736, 11.64,2.68770, 13.44,2.68749, 12.99,2.68685, 11.64,2.68677];
const GQc4 = [17.28,2.68740, 17.58,2.68762, 17.88,2.68740, 17.58,2.68719];
const GQd1 = [13.50,2.68204, 14.28,2.68289, 15.54,2.68260, 15.99,2.68204, 15.24,2.68132, 14.28,2.68102];
const GQd2 = [14.04,2.68196, 14.40,2.68234, 14.79,2.68196, 14.40,2.68153];
const GQp = [8.4,2.698, 8.8,2.6975, 9.1,2.697, 17.9,2.6974, 18.6,2.6978, 19.2,2.6972, 8.8,2.695, 9.9,2.6955, 10.4,2.695, 11.2,2.6955, 12.3,2.6948, 13.0,2.6945, 14.4,2.6955, 14.5,2.695, 14.4,2.6945, 14.6,2.696, 8.7,2.6915, 9.4,2.6908, 9.9,2.6912, 13.9,2.6916, 14.5,2.6907, 14.8,2.6915, 15.3,2.6912, 14.7,2.6922, 7.6,2.6874, 7.9,2.686, 8.0,2.6855, 16.9,2.687, 17.5,2.6866, 18.2,2.6872, 19.0,2.6866, 11.0,2.6845, 14.7,2.6845, 11.0,2.681, 11.8,2.682, 12.5,2.6825, 12.7,2.6815, 13.2,2.682, 13.4,2.6828, 15.9,2.6819, 16.5,2.682, 12.0,2.6805, 14.0,2.6808];
const GQq = [9.0,2.6975, 8.9,2.698, 9.2,2.698, 8.9,2.6972, 16.8,2.6975, 17.5,2.6972, 18.5,2.6975, 19.3,2.6977, 14.4,2.6951, 14.5,2.6948, 14.7,2.6957, 8.9,2.6911, 9.3,2.6913, 9.6,2.691, 14.8,2.6906, 15.0,2.6911, 14.3,2.691, 14.4,2.6915, 7.8,2.687, 8.0,2.6868, 7.7,2.6862, 8.2,2.6858, 17.4,2.6878, 17.6,2.687, 18,2.6868, 12.8,2.6825, 13.0,2.6818, 13.1,2.6808, 12.4,2.6816, 16.2,2.6822, 13.3,2.6811, 16.3,2.6815, 13.0,2.683, 12.6,2.682];

const PQa1 = [6.531,2.69762, 6.548,2.69813, 6.583,2.69847, 6.602,2.69821, 6.617,2.69762, 6.602,2.69706, 6.577,2.69664, 6.551,2.69706];
const PQa2 = [6.563,2.69762, 6.574,2.69800, 6.593,2.69804, 6.604,2.69762, 6.593,2.69706, 6.574,2.69706];
const PQa3 = [6.577,2.69753, 6.585,2.69779, 6.591,2.69753, 6.585,2.69728];
const PQb1 = [6.537,2.69111, 6.553,2.69196, 6.572,2.69111, 6.553,2.69047];
const PQc1 = [6.538,2.68685, 6.554,2.68813, 6.590,2.68843, 6.614,2.68770, 6.602,2.68643, 6.577,2.68570, 6.558,2.68587];
const PQc2 = [6.554,2.68685, 6.564,2.68783, 6.590,2.68813, 6.602,2.68749, 6.590,2.68643, 6.574,2.68600, 6.561,2.68621];
const PQc3 = [6.569,2.68664, 6.570,2.68749, 6.586,2.68783, 6.597,2.68740, 6.583,2.68664];
const PQc4 = [6.575,2.68736, 6.580,2.68783, 6.590,2.68736, 6.580,2.68685];
const PQd1 = [6.457,2.68204, 6.468,2.68272, 6.494,2.68238, 6.505,2.68187, 6.487,2.68132, 6.468,2.68119];
const PQp = [6.52,2.6975, 6.525,2.698, 6.515,2.697, 6.62,2.6975, 6.63,2.6978, 6.625,2.6972, 6.64,2.695, 6.645,2.6953, 6.65,2.695, 6.655,2.6945, 6.66,2.6955, 6.63,2.6948, 6.54,2.6955, 6.52,2.695, 6.5,2.6945, 6.46,2.6935, 6.48,2.6925, 6.525,2.691, 6.53,2.6914, 6.575,2.6915, 6.585,2.6908, 6.59,2.6912, 6.615,2.691, 6.618,2.6906, 6.5,2.6905, 6.48,2.688, 6.53,2.6865, 6.535,2.6875, 6.62,2.687, 6.63,2.6868, 6.655,2.687, 6.45,2.685, 6.44,2.6865, 6.41,2.6858, 6.49,2.6848, 6.44,2.6815, 6.45,2.6825, 6.43,2.681, 6.51,2.683, 6.515,2.6815, 6.52,2.682, 6.47,2.6807, 6.53,2.6822];
const PQq = [6.51,2.6978, 6.515,2.6975, 6.52,2.6972, 6.505,2.698, 6.625,2.698, 6.615,2.6978, 6.635,2.6975, 6.525,2.6908, 6.53,2.6908, 6.58,2.691, 6.575,2.6905, 6.57,2.6917, 6.52,2.6868, 6.53,2.687, 6.525,2.686, 6.535,2.6858, 6.62,2.6875, 6.618,2.6865, 6.625,2.6875, 6.535,2.6863, 6.45,2.6818, 6.445,2.6822, 6.44,2.6828, 6.438,2.6812, 6.44,2.6805, 6.505,2.6824, 6.51,2.6822, 6.51,2.681, 6.5,2.6812, 6.45,2.6808, 6.46,2.6812, 6.45,2.6832];

const HQa1 = [5.35,2.69762, 6.03,2.69825, 6.68,2.69851, 6.72,2.69885, 7.31,2.69885, 7.31,2.69851, 8.25,2.69825, 9.44,2.69762, 8.25,2.69711, 7.23,2.69668, 6.20,2.69681, 5.61,2.69723];
const HQa2 = [6.03,2.69762, 6.55,2.69804, 7.40,2.69808, 8.34,2.69762, 7.91,2.69711, 7.06,2.69698, 6.38,2.69711];
const HQa3 = [6.46,2.69757, 6.89,2.69791, 7.40,2.69774, 7.74,2.69757, 7.40,2.69732, 6.89,2.69715];
const HQa4 = [6.80,2.69757, 7.01,2.69800, 7.23,2.69757, 7.01,2.69706];
const HQb1 = [6.09,2.69115, 6.38,2.69179, 7.06,2.69179, 7.35,2.69115, 7.06,2.69064, 6.29,2.69064];
const HQb2 = [7.52,2.69115, 7.74,2.69153, 7.96,2.69115, 7.74,2.69077];
const HQc1 = [5.56,2.68711, 6.03,2.68804, 7.40,2.68838, 8.76,2.68804, 9.58,2.68745, 9.99,2.68745, 9.58,2.68732, 8.93,2.68668, 8.08,2.68591, 6.55,2.68574, 5.78,2.68625];
const HQc2 = [5.95,2.68711, 6.38,2.68787, 7.40,2.68804, 8.93,2.68774, 8.76,2.68711, 7.91,2.68625, 6.71,2.68604, 6.12,2.68647];
const HQc3 = [6.58,2.68732, 7.23,2.68774, 8.08,2.68774, 8.85,2.68745, 7.91,2.68689, 7.06,2.68634];
const HQc4 = [7.19,2.68745, 7.40,2.68796, 7.60,2.68745, 7.40,2.68698];
const HQd1 = [6.60,2.68200, 7.18,2.68277, 7.91,2.68243, 8.34,2.68221, 8.25,2.68157, 7.57,2.68136, 7.14,2.68106, 6.80,2.68149];
const HQp = [5.3,2.698, 5.5,2.6975, 5.25,2.697, 9.6,2.698, 9.7,2.6975, 9.5,2.6972, 10.3,2.6976, 10.9,2.6977, 6.3,2.695, 6.7,2.6955, 7.1,2.6958, 7.18,2.6953, 7.2,2.6948, 7.3,2.6956, 8.0,2.694, 6.5,2.6942, 5.8,2.691, 5.95,2.6915, 7.6,2.6915, 8.2,2.6912, 8.5,2.6909, 8.9,2.6915, 9.4,2.6912, 9.5,2.6908, 10.2,2.6915, 10.8,2.6916, 11.0,2.6914, 9.5,2.687, 9.8,2.6868, 10.0,2.6862, 10.5,2.6867, 11.2,2.6872, 10.9,2.6862, 8.9,2.6855, 6.5,2.686, 7.4,2.6845, 5.7,2.682, 5.85,2.6825, 6.0,2.6815, 6.2,2.6822, 6.3,2.681, 6.0,2.6808, 8.5,2.6815, 9.0,2.682, 5.9,2.6832];
const HQq = [5.4,2.6978, 5.45,2.6972, 5.35,2.698, 5.6,2.698, 9.55,2.6976, 9.65,2.6972, 9.8,2.6979, 7.15,2.695, 7.25,2.6952, 7.22,2.6944, 5.85,2.6905, 5.9,2.691, 6.0,2.6918, 6.1,2.6905, 7.5,2.6908, 7.3,2.6912, 8.0,2.691, 8.9,2.6907, 9.8,2.6911, 9.55,2.6875, 9.7,2.686, 10.1,2.687, 10.4,2.6875, 9.9,2.6856, 5.8,2.6815, 5.75,2.6825, 5.95,2.683, 6.05,2.6822, 6.2,2.6816, 6.25,2.6826, 8.4,2.6825, 6.1,2.6812];

// the few near-black specks
const ALd = [9.29,13.585, 9.43,13.285, 9.45,13.285, 9.18,12.53];
const APd = [9.345,6.656];
const LHd = [12.50,7.85];
const GPd = [14.4,6.642];
const PHd = [6.486,8.38];
const noSpecks = [];

const allTicks = [ticksA, ticksL, ticksG, ticksP, ticksH, ticksQ];
const allLabels = [labelsA, labelsL, labelsG, labelsP, labelsH, labelsQ];
const allTitles = [titleA, titleL, titleG, titleP, titleH, titleQ];
const allHists = [histA, histL, histG, histP, histH, histQ];
const labelShift = [11, 15, 9, 15, 13, 18];

// [column, row, scatter points, [contour, fill level]..., dark specks]
const panels = [
  [0, 1, ALp.concat(ALq), [[AL1,0],[ALs,0],[AL2,1],[AL3,2],[AL4,4]], ALd],
  [0, 2, AGp.concat(AGq), [[AG1,0],[AG2,1],[AGs,0],[AG3,1],[AG4,3],[AG5,4]], noSpecks],
  [1, 2, LGp.concat(LGq), [[LG1,0],[LG2,1],[LGs,0],[LG3,1],[LG4,4]], noSpecks],
  [0, 3, APp.concat(APq), [[AP1,0],[APi,0],[AP2,1],[AP3,2],[AP4,3],[AP5,4]], APd],
  [1, 3, LPp.concat(LPq), [[LP1,0],[LPi,0],[LPs,4],[LP2,1],[LP3,2],[LP4,4]], noSpecks],
  [2, 3, GPp.concat(GPq), [[GP1,0],[GPi,0],[GP2,1],[GP3,2],[GP4,3],[GP5,4],[GP6,4]], GPd],
  [0, 4, AHp.concat(AHq), [[AH1,0],[AH2,1],[AHs,0],[AH3,2],[AH4,3],[AH5,4]], noSpecks],
  [1, 4, LHp.concat(LHq), [[LH1,0],[LH2,1],[LH3,2],[LH4,3],[LH5,4]], LHd],
  [2, 4, GHp.concat(GHq), [[GH1,0],[GHs,3],[GH2,0],[GH3,1],[GH4,3],[GH5,4]], noSpecks],
  [3, 4, PHp.concat(PHq), [[PHi,0],[PH1,0],[PH2,1],[PH3,2],[PH4,4],[PHs,1]], PHd],
  [0, 5, AQp.concat(AQq), [[AQa1,0],[AQa2,1],[AQa3,2],[AQa4,3],[AQb1,0],[AQb2,0],[AQb3,0],[AQc1,0],[AQc2,1],[AQc3,2],[AQc4,3],[AQc5,4],[AQd1,0]], noSpecks],
  [1, 5, LQp.concat(LQq), [[LQa1,0],[LQa2,1],[LQa3,2],[LQa4,3],[LQb1,0],[LQb2,4],[LQc1,0],[LQc2,1],[LQc3,2],[LQc4,4],[LQd1,0]], noSpecks],
  [2, 5, GQp.concat(GQq), [[GQa1,0],[GQa2,1],[GQa3,2],[GQa4,4],[GQb1,0],[GQb2,0],[GQc1,0],[GQc2,1],[GQc3,2],[GQc4,1],[GQd1,0],[GQd2,1]], noSpecks],
  [3, 5, PQp.concat(PQq), [[PQa1,0],[PQa2,1],[PQa3,2],[PQb1,0],[PQc1,0],[PQc2,1],[PQc3,2],[PQc4,4],[PQd1,0]], noSpecks],
  [4, 5, HQp.concat(HQq), [[HQa1,0],[HQa2,1],[HQa3,2],[HQa4,4],[HQb1,0],[HQb2,0],[HQc1,0],[HQc2,1],[HQc3,2],[HQc4,4],[HQd1,0]], noSpecks]
];

const levelFill = ['#f6f6f6', '#cfcfcf', '#7e7e7e', '#4a4a4a', '#000000'];
const panelLeft = [72.5, 223.5, 375, 526, 677.5, 829];
const panelTop = [28.5, 180, 331, 482.5, 634, 785];
const panelSize = 144;
const binCount = 20;
const FONT = "'DejaVu Sans'";

function toPoints(list, close) {
  const out = [];
  for (let i = 0; i < list.length; i += 2) out.push({x: list[i], y: list[i + 1]});
  if (close) out.push({x: list[0], y: list[1]});
  return out;
}

// faint 2d-histogram bin seams, only inside the outer contours
function drawBinSeams(chart, regions) {
  const ctx = chart.ctx, xs = chart.scales.x, ys = chart.scales.y;
  ctx.save();
  ctx.beginPath();
  regions.forEach(r => {
    for (let i = 0; i < r.length; i += 2) {
      const px = xs.getPixelForValue(r[i]), py = ys.getPixelForValue(r[i + 1]);
      if (i === 0) ctx.moveTo(px, py); else ctx.lineTo(px, py);
    }
    ctx.closePath();
  });
  ctx.clip();
  ctx.strokeStyle = 'rgba(255,255,255,0.28)';
  ctx.lineWidth = 0.8;
  ctx.beginPath();
  for (let k = 1; k < binCount; k++) {
    const px = xs.left + (xs.right - xs.left) * k / binCount;
    const py = ys.top + (ys.bottom - ys.top) * k / binCount;
    ctx.moveTo(px, ys.top); ctx.lineTo(px, ys.bottom);
    ctx.moveTo(xs.left, py); ctx.lineTo(xs.right, py);
  }
  ctx.stroke();
  ctx.restore();
}

// frame around the axes and the mixed italic/subscript axis titles
const cornerPlugin = {
  id: 'corner',
  afterDraw(chart, args, opts) {
    const ctx = chart.ctx, a = chart.chartArea;
    if (opts.regions) drawBinSeams(chart, opts.regions);
    ctx.save();
    ctx.strokeStyle = '#333';
    ctx.lineWidth = 1.25;
    ctx.strokeRect(a.left, a.top, a.right - a.left, a.bottom - a.top);
    if (opts.xTitle) drawTitle(ctx, opts.xTitle, (a.left + a.right) / 2, a.bottom + 52.5, 0);
    if (opts.yTitle) drawTitle(ctx, opts.yTitle, 16, (a.top + a.bottom) / 2, -Math.PI / 2);
    ctx.restore();
  }
};

function runFont(style) {
  if (style === 1) return 'italic 20px ' + FONT;
  if (style >= 2) return '14.5px ' + FONT;
  return '20px ' + FONT;
}

function drawTitle(ctx, runs, cx, cy, angle) {
  let w = 0;
  runs.forEach(r => { ctx.font = runFont(r[1]); w += ctx.measureText(r[0]).width; });
  ctx.translate(cx, cy);
  ctx.rotate(angle);
  ctx.fillStyle = '#000';
  ctx.textBaseline = 'alphabetic';
  ctx.textAlign = 'left';
  let x = -w / 2;
  runs.forEach(r => {
    ctx.font = runFont(r[1]);
    const dy = r[1] === 2 ? 10 : r[1] === 3 ? -1.5 : 7;
    ctx.fillText(r[0], x, dy);
    x += ctx.measureText(r[0]).width;
  });
  ctx.rotate(-angle);
  ctx.translate(-cx, -cy);
}

function axisConfig(index, showLabels, isX) {
  const tickList = allTicks[index];
  const labels = allLabels[index];
  return {
    type: 'linear',
    min: axisMin[index],
    max: axisMax[index],
    afterBuildTicks: s => { s.ticks = tickList.map(v => ({value: v})); },
    grid: {drawOnChartArea: false, drawTicks: true, tickLength: 3.5, tickColor: '#333', lineWidth: 1},
    border: {display: false},
    ticks: {
      display: showLabels,
      autoSkip: false,
      minRotation: 45,
      maxRotation: 45,
      padding: isX ? 2 : 5,
      labelOffset: isX ? labelShift[index] : 0,
      color: '#000',
      font: {family: FONT, size: 16},
      callback: (v, i) => labels[i]
    }
  };
}

function fixSize(s, size) {
  if (s.isHorizontal()) s.height = size; else s.width = size;
  s.paddingLeft = s.paddingRight = s.paddingTop = s.paddingBottom = 0;
}

function makePanel(col, row, datasets, yScale, regions) {
  const fx = panelLeft[col] - Math.floor(panelLeft[col]);
  const fy = panelTop[row] - Math.floor(panelTop[row]);
  const padL = col === 0 ? 72 : row === 5 ? 40 : 8;
  const padR = row === 5 ? 24 : 8;
  const padT = 4;
  const padB = row === 5 ? 70 : col === 0 ? 16 : 6;
  const canvas = document.createElement('canvas');
  const w = padL + panelSize + padR + 1;
  const h = padT + panelSize + padB + 1;
  canvas.width = w;
  canvas.height = h;
  canvas.style.left = (Math.floor(panelLeft[col]) - padL) + 'px';
  canvas.style.top = (Math.floor(panelTop[row]) - padT) + 'px';
  document.body.appendChild(canvas);
  const yW = padL + fx;
  const xH = h - padT - fy - panelSize;
  const xAxis = axisConfig(col, row === 5, true);
  xAxis.afterFit = s => fixSize(s, xH);
  yScale.afterFit = s => fixSize(s, yW);
  new Chart(canvas, {
    type: 'scatter',
    data: {datasets},
    options: {
      responsive: false,
      animation: false,
      events: [],
      layout: {padding: {top: padT + fy, right: w - yW - panelSize, left: 0, bottom: 0}},
      scales: {x: xAxis, y: yScale},
      plugins: {
        legend: {display: false},
        tooltip: {enabled: false},
        corner: {
          xTitle: row === 5 ? allTitles[col] : null,
          yTitle: col === 0 && row > 0 ? allTitles[row] : null,
          regions: regions || null
        }
      }
    },
    plugins: [cornerPlugin]
  });
}

Chart.defaults.font.family = FONT;

// histograms on the diagonal
allHists.forEach((counts, i) => {
  const step = (axisMax[i] - axisMin[i]) / counts.length;
  const line = counts.map((c, k) => ({x: axisMin[i] + k * step, y: c}));
  line.push({x: axisMax[i], y: counts[counts.length - 1]});
  line.push({x: axisMax[i], y: 0});
  const yTicks = histTicks[i];
  const yScale = {
    type: 'linear', min: 0, max: histMax[i],
    afterBuildTicks: s => { s.ticks = yTicks.map(v => ({value: v})); },
    grid: {drawOnChartArea: false, drawTicks: true, tickLength: 3.5, tickColor: '#333', lineWidth: 1},
    border: {display: false},
    ticks: {display: false}
  };
  makePanel(i, i, [{
    data: line, showLine: true, stepped: true, fill: false,
    borderColor: '#000', borderWidth: 1.7, pointRadius: 0
  }], yScale);
});

// 2d panels: filled contours on top of the scatter, innermost dataset first
panels.forEach(p => {
  const [col, row, scatter, contours, specks] = p;
  const sets = [];
  contours.slice().reverse().forEach(c => {
    sets.push({
      data: toPoints(c[0], true), showLine: true, fill: 'shape', tension: 0,
      backgroundColor: levelFill[c[1]], borderColor: '#000', borderWidth: 1.7, pointRadius: 0
    });
  });
  sets.push({
    data: toPoints(specks, false), showLine: false,
    pointStyle: 'rect', pointRadius: 1.3, pointBorderWidth: 0,
    pointBackgroundColor: 'rgba(0,0,0,0.75)'
  });
  sets.push({
    data: toPoints(scatter, false), showLine: false,
    pointStyle: 'cross', pointRadius: 1.7, pointBorderWidth: 1,
    pointBorderColor: 'rgba(0,0,0,0.18)', pointBackgroundColor: 'rgba(0,0,0,0)'
  });
  const regions = contours.filter(c => c[1] === 0).map(c => c[0]);
  makePanel(col, row, sets, axisConfig(row, col === 0, false), regions);
});
</script>
</body>
</html>
